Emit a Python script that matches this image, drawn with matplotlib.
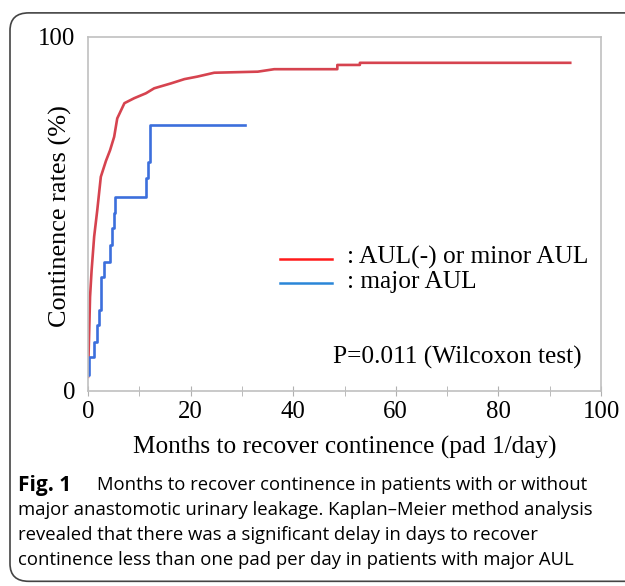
import matplotlib.pyplot as plt
from matplotlib.patches import FancyBboxPatch

# red curve: AUL(-) or minor AUL
red_months = [0, 0.2, 0.4, 0.7, 1.2, 1.8, 2.5, 3.5, 4.3, 5.1, 5.7, 7.1, 9.0, 11.3,
              12.9, 16.2, 18.8, 21.3, 24.6, 33.1, 36.3, 48.6, 48.6, 53.0, 53.0, 94.0]
red_rates = [4, 15, 26.6, 34, 43.6, 51, 60.5, 65, 68, 71.8, 77, 81.3, 82.7, 84.1,
             85.5, 86.9, 88.1, 88.8, 89.9, 90.2, 90.9, 90.9, 92.1, 92.1, 92.7, 92.7]

# blue curve: major AUL (step function)
blue_months = [0, 0.2, 1.2, 1.8, 2.2, 2.5, 3.1, 4.3, 4.6, 5.0, 5.2, 11.4, 11.6, 12.1, 30.6]
blue_rates = [4.5, 9.5, 13.9, 18.6, 22.9, 32.3, 36.5, 41.2, 46.0, 50.2, 54.7, 60.1, 64.8, 75.1, 75.1]

x_ticks = [0, 20, 40, 60, 80, 100]
caption = ["Months to recover continence in patients with or without",
           "major anastomotic urinary leakage. Kaplan\u2013Meier method analysis",
           "revealed that there was a significant delay in days to recover",
           "continence less than one pad per day in patients with major AUL"]

serif = "Liberation Serif"
sans = "Open Sans"
fig = plt.figure(figsize=(6.25, 5.86), dpi=100)
ax = fig.add_axes([0.1408, 0.3328, 0.8208, 0.6041])

ax.plot(red_months, red_rates, color="#d6434f", lw=1.9)
ax.step(blue_months, blue_rates, where="post", color="#3c6fdc", lw=1.9)

ax.set_xlim(0, 100)
ax.set_ylim(0, 100)
ax.set_xticks(x_ticks)
ax.set_xticks(range(0, 101, 10), minor=True)
ax.set_xticklabels([str(t) for t in x_ticks], fontfamily=serif, fontsize=17.8)
ax.set_yticks([0, 100])
ax.set_yticklabels(["0", "100"], fontfamily=serif, fontsize=17.8)
ax.tick_params(axis="x", which="both", direction="inout", length=7, color="#b0b0b0", pad=4)
ax.tick_params(axis="y", length=0, pad=9)
for s in ax.spines.values():
    s.set_color("#c0c0c0")
    s.set_linewidth(1.2)

ax.set_ylabel("Continence rates (%)", fontfamily=serif, fontsize=18.9)
ax.yaxis.set_label_coords(-0.031, 0.493)
ax.set_xlabel("Months to recover continence (pad 1/day)", fontfamily=serif, fontsize=18.2, labelpad=9)

# legend drawn by hand
ax.plot([37.5, 47.5], [37.2, 37.2], color="#ff1a1a", lw=1.8)
ax.plot([37.5, 47.5], [30.4, 30.4], color="#2a86d8", lw=1.8)
ax.text(50.5, 37.6, ": AUL(-) or minor AUL", fontfamily=serif, fontsize=18.3, va="center")
ax.text(50.5, 30.8, ": major AUL", fontfamily=serif, fontsize=18.3, va="center")
ax.text(47.7, 9.6, "P=0.011 (Wilcoxon test)", fontfamily=serif, fontsize=18.3, va="center")

# caption
fig.text(0.029, 0.172, "Fig. 1", fontfamily=sans, fontweight="bold", fontsize=15, va="center")
fig.text(0.155, 0.172, caption[0], fontfamily=sans, fontsize=13.3, va="center")
for i, line in enumerate(caption[1:]):
    fig.text(0.029, 0.172 - (i + 1) * 0.0427, line, fontfamily=sans, fontsize=13.3, va="center")

# outer frame
frame = FancyBboxPatch((0.016, 0.008), 1.2, 0.97, boxstyle="round,pad=0,rounding_size=0.03",
                       transform=fig.transFigure, fill=False, edgecolor="#444444", lw=1.2)
fig.patches.append(frame)

fig.savefig("out.png", dpi=100)
